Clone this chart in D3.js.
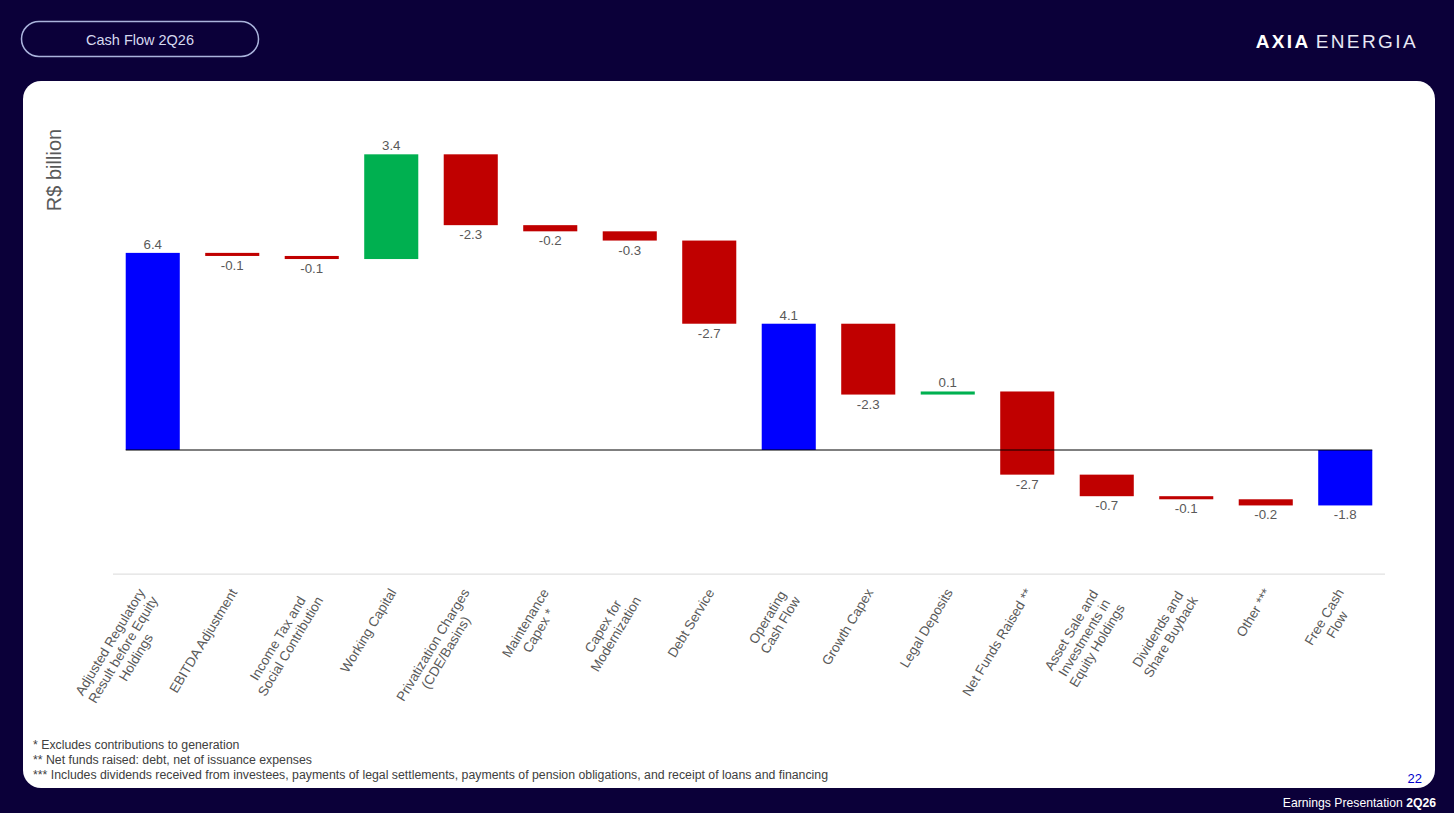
<!DOCTYPE html>
<html><head><meta charset="utf-8">
<script src="https://cdn.jsdelivr.net/npm/d3@7"></script>
<style>body{margin:0;background:#0b0039;}svg{display:block;}</style>
</head><body>
<svg id="c" width="1454" height="813"></svg>
<script>
// ---- data ----
const categories = [
  "Adjusted Regulatory\nResult before Equity\nHoldings",
  "EBITDA Adjustment",
  "Income Tax and\nSocial Contribution",
  "Working Capital",
  "Privatization Charges\n(CDE/Basins)",
  "Maintenance\nCapex *",
  "Capex for\nModernization",
  "Debt Service",
  "Operating\nCash Flow",
  "Growth Capex",
  "Legal Deposits",
  "Net Funds Raised **",
  "Asset Sale and\nInvestments in\nEquity Holdings",
  "Dividends and\nShare Buyback",
  "Other ***",
  "Free Cash\nFlow"
];
const values = [6.4, -0.1, -0.1, 3.4, -2.3, -0.2, -0.3, -2.7, 4.1, -2.3, 0.1, -2.7, -0.7, -0.1, -0.2, -1.8];
const isTotal = [true, false, false, false, false, false, false, false, true, false, false, false, false, false, false, true];
const footnotes = [
  "* Excludes contributions to generation",
  "** Net funds raised: debt, net of issuance expenses",
  "*** Includes dividends received from investees, payments of legal settlements, payments of pension obligations, and receipt of loans and financing"
];
const yTitle = "R$ billion";
const pageTitle = "Cash Flow 2Q26";
const pageNumber = "22";

// ---- build waterfall ----
let run = 0;
const rows = categories.map((c, i) => {
  let y0, y1;
  if (isTotal[i]) { y0 = 0; y1 = values[i]; run = values[i]; }
  else { y0 = run; y1 = run + values[i]; run = y1; }
  return {cat: c, v: values[i], total: isTotal[i], lo: Math.min(y0, y1), hi: Math.max(y0, y1)};
});

const svg = d3.select("#c");
const FONT = "'Liberation Sans', Arial, sans-serif";

// background
svg.append("rect").attr("width", 1454).attr("height", 813).attr("fill", "#0b0039");
// title pill
svg.append("rect").attr("x", 21.5).attr("y", 21.5).attr("width", 237).attr("height", 35).attr("rx", 17.5)
  .attr("fill", "none").attr("stroke", "#aab3dc").attr("stroke-width", 1.5);
svg.append("text").attr("x", 140).attr("y", 44.5).attr("text-anchor", "middle")
  .attr("font-family", FONT).attr("font-size", 14.5).attr("fill", "#d6d9ef").text(pageTitle);
// logo
const logo = svg.append("text").attr("x", 1418).attr("y", 48).attr("text-anchor", "end")
  .attr("font-family", FONT).attr("font-size", 19).attr("fill", "#ffffff").attr("letter-spacing", 2.4);
logo.append("tspan").attr("font-weight", "bold").text("AXIA");
logo.append("tspan").attr("dx", 5).attr("font-weight", "normal").attr("fill", "#e8e8f4").text("ENERGIA");

// white panel
svg.append("rect").attr("x", 23).attr("y", 81).attr("width", 1412).attr("height", 707).attr("rx", 18)
  .attr("fill", "#ffffff");

// footer
const foot = svg.append("text").attr("x", 1436).attr("y", 807).attr("text-anchor", "end")
  .attr("font-family", FONT).attr("font-size", 12.2).attr("fill", "#ffffff");
foot.append("tspan").text("Earnings Presentation ");
foot.append("tspan").attr("font-weight", "bold").text("2Q26");

// ---- scales ----
const x = d3.scaleBand().domain(categories).range([113, 1385]).paddingInner(0.32).paddingOuter(0.16);
const k = 30.8;
const y = d3.scaleLinear().domain([-4.03, 10]).range([450 + 4.03 * k, 450 - 10 * k]);

const color = d => d.total ? "#0000ff" : (d.v < 0 ? "#c00000" : "#00b050");

const g = svg.append("g");
// axis line (bottom, gray)
g.append("line").attr("x1", x.range()[0]).attr("x2", x.range()[1])
  .attr("y1", y(-4.03)).attr("y2", y(-4.03)).attr("stroke", "#d9d9d9").attr("stroke-width", 1);

// bars
g.selectAll("rect.bar").data(rows).join("rect").attr("class", "bar")
  .attr("x", d => x(d.cat)).attr("width", x.bandwidth())
  .attr("y", d => y(d.hi)).attr("height", d => Math.max(1.5, y(d.lo) - y(d.hi)))
  .attr("fill", color);

// zero line
g.append("line").attr("x1", x(categories[0])).attr("x2", x(categories[categories.length - 1]) + x.bandwidth())
  .attr("y1", y(0)).attr("y2", y(0)).attr("stroke", "#000000").attr("stroke-width", 1);

// data labels
const fmt = v => d3.format(".1f")(v).replace("\u2212", "-");
g.selectAll("text.val").data(rows).join("text").attr("class", "val")
  .attr("x", d => x(d.cat) + x.bandwidth() / 2)
  .attr("y", d => d.v >= 0 ? y(d.hi) - 4 : y(d.lo) + 14)
  .attr("text-anchor", "middle").attr("font-family", FONT).attr("font-size", 13.3)
  .attr("fill", "#595959").text(d => fmt(d.v));

// category labels (rotated, multi-line centered)
const ANG = 59, LH = 15;
const rad = ANG * Math.PI / 180;
rows.forEach(d => {
  const lines = d.cat.split("\n");
  const H = lines.length * LH;
  const cx = x(d.cat) + x.bandwidth() / 2;
  const lg = g.append("g")
    .attr("transform", `translate(${cx + 1.5 - Math.sin(rad) * H / 2},${586}) rotate(${-ANG})`);
  const ts = lines.map((t, i) => lg.append("text")
    .attr("y", LH * (i + 0.5)).attr("dy", "0.35em")
    .attr("font-family", FONT).attr("font-size", 13.5).attr("fill", "#595959")
    .attr("text-anchor", "middle").text(t));
  const maxW = d3.max(ts, t => t.node().getComputedTextLength());
  ts.forEach(t => t.attr("x", -maxW / 2));
});

// y title
svg.append("text").attr("transform", "translate(61,170) rotate(-90)").attr("text-anchor", "middle")
  .attr("font-family", FONT).attr("font-size", 20).attr("fill", "#595959").text(yTitle);

// footnotes
svg.selectAll("text.fn").data(footnotes).join("text").attr("class", "fn")
  .attr("x", 33).attr("y", (d, i) => 749 + i * 15)
  .attr("font-family", FONT).attr("font-size", 12.3).attr("fill", "#404040").text(d => d);

// page number
svg.append("text").attr("x", 1422).attr("y", 783).attr("text-anchor", "end")
  .attr("font-family", FONT).attr("font-size", 13).attr("fill", "#0000cc").text(pageNumber);
</script>
</body></html>
